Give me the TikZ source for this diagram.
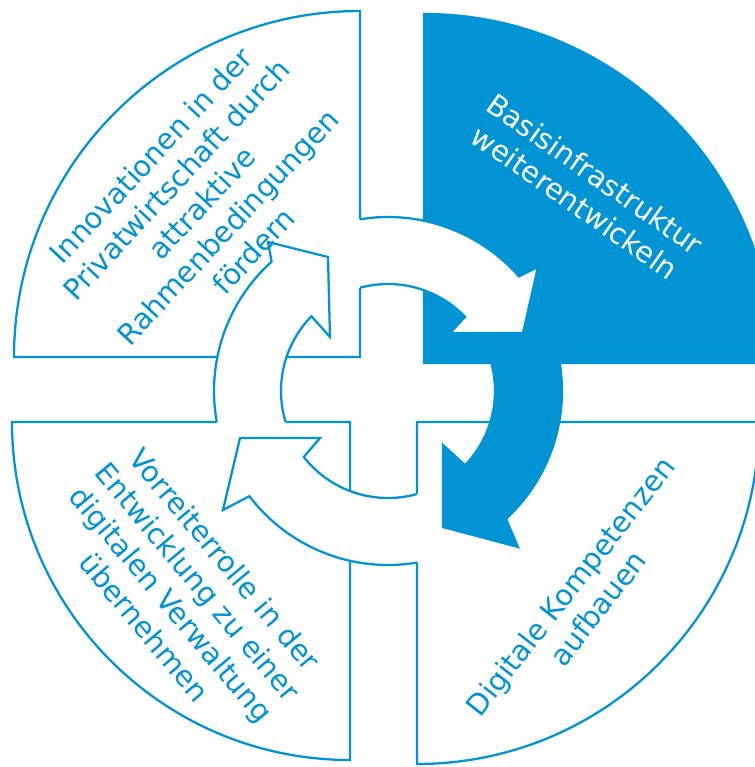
\documentclass[tikz,border=0pt]{standalone}
\usepackage{fontspec}
\setmainfont{DejaVu Sans}
\definecolor{ringblue}{RGB}{0,148,212}
\begin{document}
\begin{tikzpicture}[scale=0.02]
    % Basic styles
    \tikzset{
        quadrant/.style={draw=ringblue, line width=1.3pt},
        ringarrow/.style={draw=ringblue, line width=1.3pt},
        quadtext/.style={align=center, inner sep=0pt, font=\fontsize{16.4}{19.9}\selectfont}
    }

    % Picture frame
    \useasboundingbox (-388,-376) rectangle (367,391);
    \clip (-388,-376) rectangle (367,391);

    % White quadrants
    \draw[quadrant, fill=white] (-28,34) -- (-28,380) arc[start angle=90, end angle=180, radius=346] -- cycle;
    \draw[quadrant, fill=white] (29,-31) -- (371,-31) arc[start angle=0, end angle=-90, radius=342] -- cycle;
    \draw[quadrant, fill=white] (-38,-31) -- (-38,-369) arc[start angle=-90, end angle=-180, radius=338] -- cycle;

    % Ring clears the quadrant edges
    \fill[white, even odd rule] (0,0) circle[radius=174] (0,0) circle[radius=107];

    % Blue quadrant
    \draw[quadrant, fill=ringblue] (36,28) -- (36,377) arc[start angle=90, end angle=0, radius=349] -- cycle;

    % Ring arrows, clockwise (tails left open)
    \filldraw[ringarrow, fill=white] (99.26:174) arc[start angle=99.26, end angle=41.2, radius=174]
        -- (150,124) -- (135,58) -- (62,58) -- (43.9:107)
        arc[start angle=43.9, end angle=105.17, radius=107];
    \filldraw[ringarrow, fill=ringblue] (9.26:174) arc[start angle=9.26, end angle=-47.3, radius=174]
        -- (130,-156) -- (55,-136) -- (55,-54) -- (-43.9:107)
        arc[start angle=-43.9, end angle=15.17, radius=107];
    \filldraw[ringarrow, fill=white] (-80.41:174) arc[start angle=-80.41, end angle=-142.8, radius=174]
        -- (-165,-119) -- (-148,-47) -- (-68,-47) -- (-141.9:107)
        arc[start angle=-141.9, end angle=-74.27, radius=107];
    \filldraw[ringarrow, fill=white] (190.26:174) arc[start angle=190.26, end angle=132, radius=174]
        -- (-120,149) -- (-60,134) -- (-58,54) -- (135.7:107)
        arc[start angle=135.7, end angle=196.84, radius=107];

    % Quadrant texts
    \node[quadtext, text=ringblue, rotate=47] (innov) at (-186,188)
        {Innovationen in der\\Privatwirtschaft durch\\attraktive\\Rahmenbedingungen\\fördern};
    \node[quadtext, text=white, rotate=-35] (basis) at (197,203)
        {Basisinfrastruktur\\weiterentwickeln};
    \node[quadtext, text=ringblue, rotate=-50] (vorreiter) at (-203,-202)
        {Vorreiterrolle in der\\Entwicklung zu einer\\digitalen Verwaltung\\übernehmen};
    \node[quadtext, text=ringblue, rotate=52] (kompetenz) at (196,-206)
        {Digitale Kompetenzen\\aufbauen};
\end{tikzpicture}
\end{document}
